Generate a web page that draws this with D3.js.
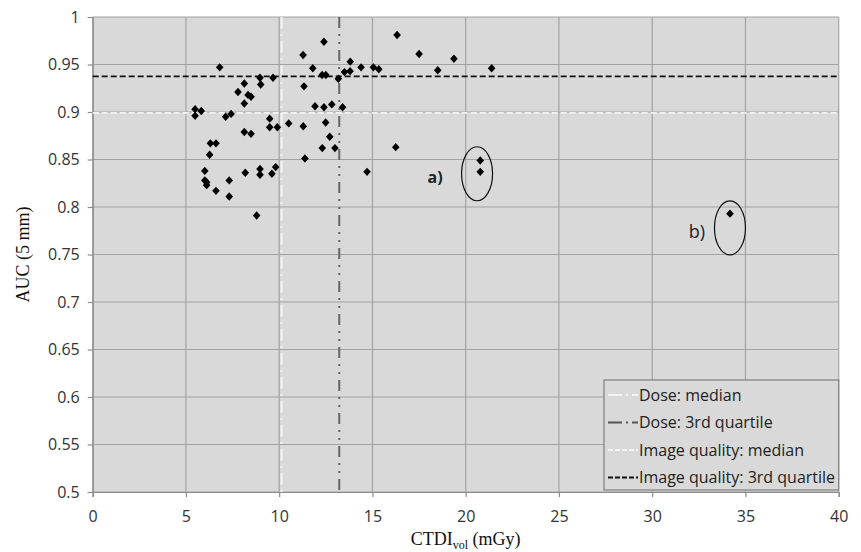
<!DOCTYPE html>
<html>
<head>
<meta charset="utf-8">
<script src="https://cdn.jsdelivr.net/npm/d3@7"></script>
<style>
  html, body { margin: 0; padding: 0; background: #fff; }
  svg { display: block; }
</style>
</head>
<body>
<svg id="chart" width="861" height="552"></svg>
<script>
// ---------- DATA ----------
const ctdi = [
  12.40, 11.28, 6.81, 11.80, 12.30, 12.50, 13.17, 13.50, 13.81, 13.80,
  8.97, 9.67, 9.01, 8.13, 7.79, 8.33, 8.49, 8.13, 11.33, 5.49,
  5.82, 5.49, 7.13, 7.42, 11.92, 12.40, 12.82, 13.40, 9.49, 9.49,
  9.90, 10.51, 11.29, 12.49, 12.71, 12.31, 12.99, 8.13, 8.49, 6.31,
  6.61, 6.27, 11.38, 6.01, 6.01, 6.11, 6.11, 6.61, 7.32, 7.32,
  8.18, 8.97, 8.97, 9.61, 9.81, 8.79, 16.32, 17.50, 19.37, 14.39,
  15.05, 15.34, 18.50, 21.39, 16.25, 14.71, 20.78, 20.78, 34.17
];
const auc = [
  0.974, 0.960, 0.947, 0.946, 0.939, 0.939, 0.935, 0.942, 0.953, 0.943,
  0.936, 0.936, 0.929, 0.930, 0.921, 0.918, 0.916, 0.909, 0.927, 0.903,
  0.901, 0.896, 0.895, 0.898, 0.906, 0.905, 0.908, 0.905, 0.893, 0.884,
  0.884, 0.888, 0.885, 0.889, 0.874, 0.862, 0.862, 0.879, 0.877, 0.867,
  0.867, 0.855, 0.851, 0.838, 0.828, 0.826, 0.823, 0.817, 0.828, 0.811,
  0.836, 0.840, 0.834, 0.835, 0.842, 0.791, 0.981, 0.961, 0.956, 0.947,
  0.947, 0.945, 0.944, 0.946, 0.863, 0.837, 0.849, 0.837, 0.793
];

const xTicks = [0, 5, 10, 15, 20, 25, 30, 35, 40];
const xTickLabels = ["0", "5", "10", "15", "20", "25", "30", "35", "40"];
const yTicks = [0.5, 0.55, 0.6, 0.65, 0.7, 0.75, 0.8, 0.85, 0.9, 0.95, 1];
const yTickLabels = ["0.5", "0.55", "0.6", "0.65", "0.7", "0.75", "0.8", "0.85", "0.9", "0.95", "1"];

// reference lines
const doseMedian = 10.13;
const doseQ3 = 13.22;
const iqMedian = 0.899;
const iqQ3 = 0.9376;

const legendLabels = ["Dose: median", "Dose: 3rd quartile", "Image quality: median", "Image quality: 3rd quartile"];

// annotations (data units)
const annoLabels = ["a)", "b)"];
const annoCx = [20.61, 34.17];
const annoCy = [0.835, 0.778];
const annoLx = [18.36, 32.40];
const annoLy = [0.825, 0.767];

// ---------- DRAW ----------
const svg = d3.select("#chart");
const L = 92.7, R = 838.7, T = 17, B = 492;
const x = d3.scaleLinear().domain([0, 40]).range([L, R]);
const y = d3.scaleLinear().domain([0.5, 1]).range([B, T]);

const gridColor = "#a3a3a3";
const tickFont = "'Open Sans', 'Liberation Sans', sans-serif";

// plot background
svg.append("rect").attr("x", L).attr("y", T).attr("width", R - L).attr("height", B - T)
  .attr("fill", "#d9d9d9");

// gridlines
svg.append("g").selectAll("line").data(yTicks).join("line")
  .attr("x1", L).attr("x2", R)
  .attr("y1", d => y(d)).attr("y2", d => y(d))
  .attr("stroke", gridColor).attr("stroke-width", 1.2);
svg.append("g").selectAll("line").data(xTicks).join("line")
  .attr("y1", T).attr("y2", B)
  .attr("x1", d => x(d)).attr("x2", d => x(d))
  .attr("stroke", gridColor).attr("stroke-width", 1.2);

// axes
const yAxis = d3.axisLeft(y).tickValues(yTicks)
  .tickFormat((d, i) => yTickLabels[i]).tickSize(5).tickPadding(8);
const xAxis = d3.axisBottom(x).tickValues(xTicks)
  .tickFormat((d, i) => xTickLabels[i]).tickSize(5).tickPadding(14);

const gy = svg.append("g").attr("transform", `translate(${L},0)`).call(yAxis);
const gx = svg.append("g").attr("transform", `translate(0,${B})`).call(xAxis);
[gx, gy].forEach(g => {
  g.select(".domain").attr("stroke", "#8c8c8c").attr("stroke-width", 1.2);
  g.selectAll(".tick line").attr("stroke", "#8c8c8c").attr("stroke-width", 1.2);
  g.selectAll(".tick text").attr("font-family", tickFont).attr("font-size", 16)
    .attr("fill", "#333");
});

// reference lines
svg.append("line").attr("x1", x(doseMedian)).attr("x2", x(doseMedian))
  .attr("y1", T).attr("y2", B)
  .attr("stroke", "#f4f4f4").attr("stroke-width", 2).attr("stroke-dasharray", "12,5,2,5");
svg.append("line").attr("x1", x(doseQ3)).attr("x2", x(doseQ3))
  .attr("y1", T).attr("y2", B)
  .attr("stroke", "#666").attr("stroke-width", 2).attr("stroke-dasharray", "11,6,2,6,2,6");
svg.append("line").attr("x1", L).attr("x2", R)
  .attr("y1", y(iqMedian)).attr("y2", y(iqMedian))
  .attr("stroke", "#f4f4f4").attr("stroke-width", 1.8).attr("stroke-dasharray", "6,3");
svg.append("line").attr("x1", L).attr("x2", R)
  .attr("y1", y(iqQ3)).attr("y2", y(iqQ3))
  .attr("stroke", "#111").attr("stroke-width", 1.8).attr("stroke-dasharray", "6,3");

// points
const pts = ctdi.map((v, i) => ({ x: v, y: auc[i] }));
svg.append("g").selectAll("path").data(pts).join("path")
  .attr("transform", d => `translate(${x(d.x)},${y(d.y)})`)
  .attr("d", "M0,-4.2L3.8,0L0,4.2L-3.8,0Z")
  .attr("fill", "#000");

// annotations
annoLabels.forEach((lab, i) => {
  svg.append("ellipse")
    .attr("cx", x(annoCx[i])).attr("cy", y(annoCy[i]))
    .attr("rx", 15.5).attr("ry", 27)
    .attr("fill", "none").attr("stroke", "#111").attr("stroke-width", 1.2);
  svg.append("text")
    .attr("x", x(annoLx[i])).attr("y", y(annoLy[i]))
    .attr("text-anchor", "middle")
    .attr("font-family", tickFont)
    .attr("font-size", i === 0 ? 16 : 18)
    .attr("font-weight", i === 0 ? "bold" : "normal")
    .attr("fill", "#222")
    .text(lab);
});

// legend
const lgX = 604, lgY = 380, lgW = R - 604, lgH = 110;
const lg = svg.append("g");
lg.append("rect").attr("x", lgX).attr("y", lgY).attr("width", lgW).attr("height", lgH)
  .attr("fill", "#d9d9d9").attr("stroke", "#7f7f7f").attr("stroke-width", 1.2);
const lgStyles = [
  { stroke: "#f4f4f4", dash: "14,4,2,4", w: 2 },
  { stroke: "#555", dash: "14,4,2,4", w: 2 },
  { stroke: "#f4f4f4", dash: "5,2", w: 1.8 },
  { stroke: "#111", dash: "5,2", w: 1.8 }
];
legendLabels.forEach((lab, i) => {
  const cy = lgY + 15 + i * 27.5;
  lg.append("line").attr("x1", lgX + 4).attr("x2", lgX + 34)
    .attr("y1", cy).attr("y2", cy)
    .attr("stroke", lgStyles[i].stroke).attr("stroke-width", lgStyles[i].w)
    .attr("stroke-dasharray", lgStyles[i].dash);
  lg.append("text").attr("x", lgX + 35).attr("y", cy).attr("dy", "0.35em")
    .attr("font-family", tickFont).attr("font-size", 16).attr("fill", "#222")
    .text(lab);
});

// axis titles
const serif = "'Liberation Serif', 'DejaVu Serif', serif";
svg.append("text")
  .attr("transform", `translate(29,${(T + B) / 2}) rotate(-90)`)
  .attr("text-anchor", "middle")
  .attr("font-family", serif).attr("font-size", 18).attr("fill", "#111")
  .text("AUC (5 mm)");

const xt = svg.append("text")
  .attr("x", (L + R) / 2).attr("y", 545)
  .attr("text-anchor", "middle")
  .attr("font-family", serif).attr("font-size", 18).attr("fill", "#111");
xt.append("tspan").text("CTDI");
xt.append("tspan").attr("font-size", 12).attr("dy", 4).text("vol");
xt.append("tspan").attr("dy", -4).text(" (mGy)");
</script>
</body>
</html>
